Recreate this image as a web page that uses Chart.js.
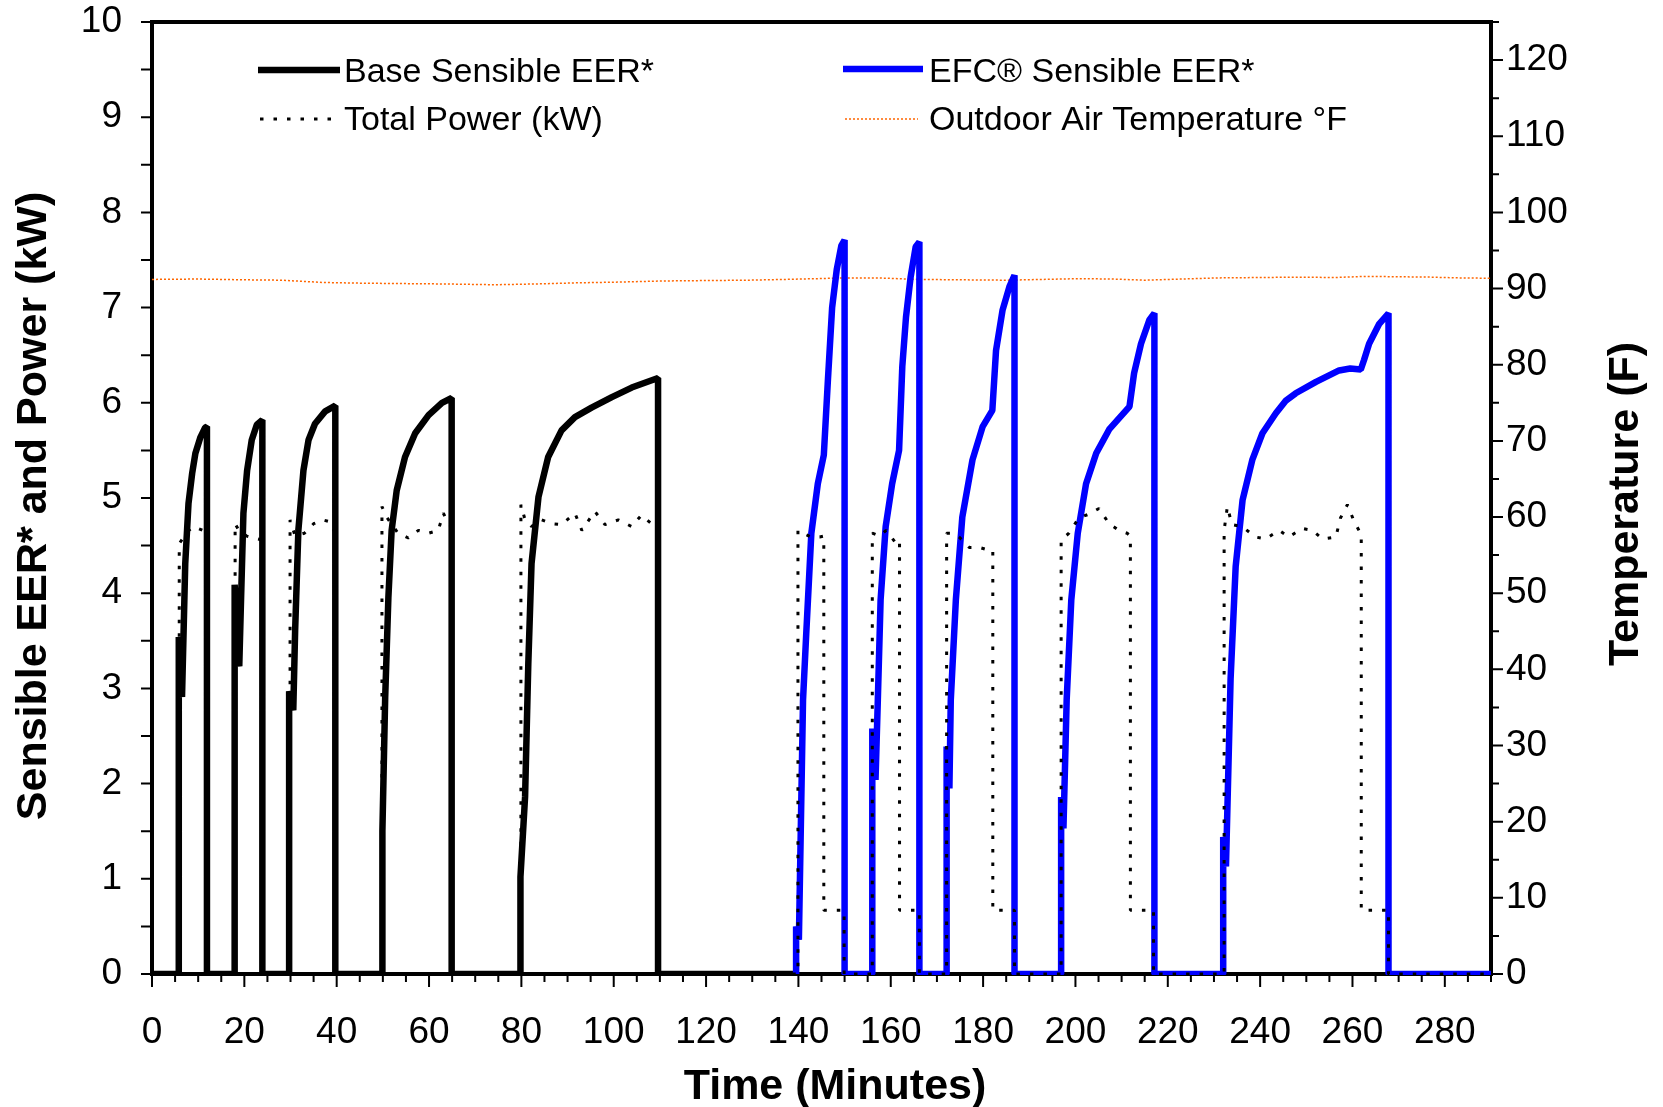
<!DOCTYPE html>
<html>
<head>
<meta charset="utf-8">
<script src="https://cdn.jsdelivr.net/npm/chart.js@4.4.1/dist/chart.umd.min.js"></script>
<style>
  html, body { margin: 0; padding: 0; background: #fff; }
  #wrap { width: 1663px; height: 1107px; }
</style>
</head>
<body>
<div id="wrap"><canvas id="eerChart" width="1663" height="1107"></canvas></div>
<script>
// values (time in minutes)
const baseTime = [0, 5.8, 5.8, 6.5, 7.2, 7.9, 8.7, 9.4, 10.5, 11.5, 11.9, 11.9,
  17.9, 17.9, 18.9, 19.3, 19.8, 20.6, 21.6, 22.7, 23.9, 23.9,
  29.7, 29.7, 30.6, 31.0, 31.7, 32.8, 33.9, 35.3, 37.5, 39.7, 39.7,
  49.9, 49.9, 50.5, 51.2, 51.9, 53.0, 54.8, 57.0, 59.9, 62.8, 64.9, 64.9,
  79.8, 79.8, 80.8, 81.5, 82.2, 83.7, 85.8, 88.7, 91.6, 95.2, 99.6, 103.9, 109.6, 109.6, 140]
const baseEER = [0, 0, 3.54, 2.91, 4.31, 4.94, 5.26, 5.47, 5.64, 5.74, 5.75, 0,
  0, 4.09, 3.23, 3.96, 4.84, 5.29, 5.61, 5.77, 5.82, 0,
  0, 2.97, 2.77, 3.61, 4.66, 5.29, 5.61, 5.78, 5.91, 5.97, 0,
  0, 1.5, 2.9, 3.96, 4.66, 5.08, 5.43, 5.68, 5.87, 6.0, 6.05, 0,
  0, 1.02, 1.86, 3.26, 4.31, 5.01, 5.43, 5.71, 5.85, 5.95, 6.06, 6.16, 6.26, 0, 0]

const efcTime = [139.5, 139.5, 140.1, 141.0, 141.7, 142.8, 144.2, 145.5, 146.4, 147.3, 148.3, 149.3, 150.0, 150.0,
  156.0, 156.0, 156.7, 157.2, 157.8, 158.9, 160.3, 161.8, 162.5, 163.3, 164.3, 165.4, 166.2, 166.2,
  172.1, 172.1, 172.7, 173.0, 174.1, 175.5, 177.7, 179.9, 182.0, 182.8, 184.2, 185.7, 186.8, 186.8,
  196.9, 196.9, 197.4, 198.1, 199.1, 200.5, 202.3, 204.5, 207.3, 211.7, 212.7, 214.2, 216.0, 217.1, 217.1,
  232.0, 232.0, 232.6, 233.6, 234.7, 236.2, 238.3, 240.5, 243.4, 245.5, 247.7, 252.1, 257.1, 259.5, 261.8,
  262.5, 263.6, 265.8, 267.8, 267.8, 290]
const efcEER = [0, 0.5, 0.36, 2.88, 3.58, 4.63, 5.15, 5.45, 6.25, 7.0, 7.4, 7.65, 7.71, 0,
  0, 2.58, 2.04, 2.88, 3.93, 4.70, 5.15, 5.5, 6.38, 6.9, 7.32, 7.64, 7.69, 0,
  0, 2.39, 1.95, 2.88, 3.93, 4.80, 5.40, 5.75, 5.92, 6.55, 6.97, 7.22, 7.34, 0,
  0, 1.86, 1.53, 2.88, 3.93, 4.63, 5.15, 5.47, 5.72, 5.96, 6.31, 6.62, 6.87, 6.94, 0,
  0, 1.44, 1.13, 3.1, 4.28, 4.98, 5.4, 5.68, 5.89, 6.02, 6.10, 6.22, 6.34, 6.36, 6.35,
  6.45, 6.62, 6.83, 6.94, 0, 0]

const powerTime = [0, 5.9, 5.9, 7.0, 8.0, 9.0, 10.0, 11.0, 11.9, 11.9,
  18.0, 18.0, 18.8, 20.5, 22.0, 23.9, 23.9,
  29.9, 29.9, 31.0, 33.0, 35.0, 37.0, 38.5, 39.7, 39.7,
  49.8, 49.8, 50.8, 53.3, 55.5, 57.7, 59.9, 62.0, 63.1, 64.2, 64.9, 64.9,
  79.9, 79.9, 80.8, 82.2, 84.4, 86.6, 88.7, 91.6, 93.1, 95.9, 98.1, 101.0, 103.9, 106.0, 108.2, 109.6, 109.6,
  139.9, 139.9, 141.0, 142.8, 144.6, 145.5, 145.5, 149.9, 149.9,
  156.0, 156.0, 157.6, 159.0, 161.2, 161.9, 161.9, 166.2, 166.2,
  172.1, 172.1, 173.4, 174.8, 177.0, 179.2, 181.4, 182.1, 182.1, 186.8, 186.8,
  196.9, 196.9, 198.6, 200.7, 202.9, 205.1, 207.3, 209.4, 211.2, 211.9, 211.9, 216.9, 216.9,
  232.2, 232.2, 232.9, 233.9, 236.1, 239.0, 241.2, 244.1, 246.2, 249.1, 251.3, 253.5, 256.4, 257.4, 258.9,
  260.3, 261.4, 261.9, 261.9, 267.8, 267.8, 290]
const powerKW = [0, 0, 4.52, 4.6, 4.66, 4.7, 4.68, 4.66, 4.65, 0,
  0, 4.73, 4.66, 4.6, 4.58, 4.56, 0,
  0, 4.77, 4.6, 4.63, 4.73, 4.77, 4.75, 4.63, 0,
  0, 4.91, 4.8, 4.63, 4.58, 4.66, 4.63, 4.66, 4.84, 4.73, 4.7, 0,
  0, 4.93, 4.77, 4.70, 4.77, 4.73, 4.72, 4.84, 4.66, 4.86, 4.72, 4.77, 4.70, 4.82, 4.73, 4.7, 0,
  0, 4.66, 4.63, 4.59, 4.59, 4.6, 0.67, 0.67, 0,
  0, 4.63, 4.6, 4.66, 4.52, 4.55, 0.67, 0.67, 0,
  0, 4.63, 4.63, 4.59, 4.48, 4.48, 4.45, 4.45, 0.67, 0.67, 0,
  0, 4.56, 4.63, 4.79, 4.83, 4.89, 4.73, 4.66, 4.63, 4.6, 0.67, 0.67, 0,
  0, 4.66, 4.91, 4.72, 4.70, 4.59, 4.57, 4.66, 4.59, 4.68, 4.66, 4.57, 4.59, 4.79, 4.93,
  4.76, 4.66, 4.63, 0.67, 0.67, 0, 0]

const tempTime = [0, 10, 20, 28, 37, 46, 55, 64, 74, 83, 92, 101, 111, 120, 129, 137, 144, 150,
  157, 166, 175, 185, 193, 201, 208, 215, 223, 231, 240, 248, 256, 263, 270, 277, 283, 290]
const tempF = [91.2, 91.25, 91.15, 91.1, 90.8, 90.7, 90.65, 90.6, 90.5, 90.6, 90.75, 90.85, 91.0, 91.05, 91.1, 91.2, 91.3, 91.4,
  91.4, 91.2, 91.15, 91.1, 91.2, 91.3, 91.25, 91.1, 91.25, 91.4, 91.45, 91.5, 91.45, 91.6, 91.55, 91.5, 91.4, 91.35]

const FONT = "'Liberation Sans', Arial, sans-serif"
const pts = (xs, ys) => xs.map((x, i) => ({ x, y: ys[i] }))

// frame, tick marks, titles and legend drawn by hand
const chartDecor = {
  id: "chartDecor",
  beforeDatasetsDraw(chart) {
    const { ctx, chartArea: a, scales } = chart
    ctx.save()
    ctx.strokeStyle = "#000"
    ctx.lineWidth = 4
    ctx.strokeRect(a.left, a.top, a.right - a.left, a.bottom - a.top)
    ctx.lineWidth = 2
    ctx.beginPath()
    scales.x.ticks.forEach((t) => {
      const px = scales.x.getPixelForValue(t.value)
      const len = t.value % 20 === 0 ? 13 : 8
      ctx.moveTo(px, a.bottom)
      ctx.lineTo(px, a.bottom + len)
    })
    scales.y.ticks.forEach((t) => {
      const py = scales.y.getPixelForValue(t.value)
      ctx.moveTo(a.left - 11, py)
      ctx.lineTo(a.left, py)
    })
    scales.y2.ticks.forEach((t) => {
      const py = scales.y2.getPixelForValue(t.value)
      const len = t.value % 10 === 0 ? 12 : 8
      ctx.moveTo(a.right, py)
      ctx.lineTo(a.right + len, py)
    })
    ctx.stroke()
    ctx.restore()
  },
  afterDraw(chart) {
    const { ctx } = chart
    const ds = chart.data.datasets
    ctx.save()
    ctx.fillStyle = "#000"

    // axis titles
    ctx.font = "bold 43px " + FONT
    ctx.textAlign = "center"
    ctx.textBaseline = "alphabetic"
    ctx.fillText("Time (Minutes)", 835, 1099)
    ctx.save()
    ctx.translate(46, 506)
    ctx.rotate(-Math.PI / 2)
    ctx.fillText("Sensible EER* and Power (kW)", 0, 0)
    ctx.restore()
    ctx.save()
    ctx.translate(1638, 504)
    ctx.rotate(-Math.PI / 2)
    ctx.fillText("Temperature (F)", 0, 0)
    ctx.restore()

    // legend
    const items = [
      { d: ds[0], x0: 258, x1: 340, y: 70, tx: 344, ty: 82 },
      { d: ds[2], x0: 260, x1: 340, y: 119, tx: 344, ty: 130 },
      { d: ds[1], x0: 843, x1: 923, y: 69, tx: 929, ty: 82 },
      { d: ds[3], x0: 845, x1: 918, y: 119, tx: 929, ty: 130 },
    ]
    ctx.font = "34px " + FONT
    ctx.textAlign = "left"
    items.forEach((it) => {
      ctx.save()
      ctx.strokeStyle = it.d.borderColor
      ctx.lineWidth = it.d.borderWidth
      ctx.setLineDash(it.d.borderDash || [])
      ctx.beginPath()
      ctx.moveTo(it.x0, it.y)
      ctx.lineTo(it.x1, it.y)
      ctx.stroke()
      ctx.restore()
      ctx.fillText(it.d.label, it.tx, it.ty)
    })
    ctx.restore()
  },
}

const tickFont = { family: FONT, size: 37 }
// fixed box sizes so the plot area lands where the original has it
const fitY = (w) => (s) => { s.width = w; s.paddingTop = 0; s.paddingBottom = 0 }
const fitX = (s) => { s.height = 133; s.paddingLeft = 0; s.paddingRight = 0 }

new Chart(document.getElementById("eerChart"), {
  type: "line",
  data: {
    datasets: [
      {
        label: "Base Sensible EER*",
        data: pts(baseTime, baseEER),
        borderColor: "#000000",
        borderWidth: 6.5,
        order: 3,
      },
      {
        label: "EFC® Sensible EER*",
        data: pts(efcTime, efcEER),
        borderColor: "#0000ff",
        borderWidth: 6.5,
        order: 2,
      },
      {
        label: "Total Power (kW)",
        data: pts(powerTime, powerKW),
        borderColor: "#000000",
        borderWidth: 3,
        borderDash: [3.5, 10],
        order: 1,
      },
      {
        label: "Outdoor Air Temperature °F",
        data: pts(tempTime, tempF),
        borderColor: "#ff6600",
        borderWidth: 1.5,
        borderDash: [2, 2],
        yAxisID: "y2",
        order: 4,
      },
    ],
  },
  options: {
    responsive: false,
    animation: false,
    devicePixelRatio: 1,
    layout: { padding: { top: 22, left: 0, right: 0, bottom: 0 } },
    elements: {
      point: { radius: 0, hoverRadius: 0 },
      line: { tension: 0, borderJoinStyle: "bevel", borderCapStyle: "butt", fill: false },
    },
    datasets: { line: { clip: { left: 4, top: 4, right: 0, bottom: 1 } } },
    plugins: { legend: { display: false }, tooltip: { enabled: false } },
    scales: {
      x: {
        type: "linear",
        min: 0,
        max: 290,
        afterFit: fitX,
        grid: { display: false, drawTicks: false },
        border: { display: false },
        ticks: {
          stepSize: 5,
          autoSkip: false,
          maxRotation: 0,
          padding: 37,
          color: "#000",
          font: tickFont,
          callback: (v) => (v % 20 === 0 ? String(v) : ""),
        },
      },
      y: {
        position: "left",
        min: 0,
        max: 10,
        afterFit: fitY(152),
        grid: { display: false, drawTicks: false },
        border: { display: false },
        ticks: {
          stepSize: 0.5,
          autoSkip: false,
          padding: 30,
          color: "#000",
          font: tickFont,
          callback: (v) => (Number.isInteger(v) ? String(v) : ""),
        },
      },
      y2: {
        position: "right",
        min: 0,
        max: 125,
        afterFit: fitY(172),
        grid: { display: false, drawTicks: false },
        border: { display: false },
        ticks: {
          stepSize: 5,
          autoSkip: false,
          padding: 15,
          color: "#000",
          font: tickFont,
          callback: (v) => (v % 10 === 0 && v <= 120 ? String(v) : ""),
        },
      },
    },
  },
  plugins: [chartDecor],
})
</script>
</body>
</html>
